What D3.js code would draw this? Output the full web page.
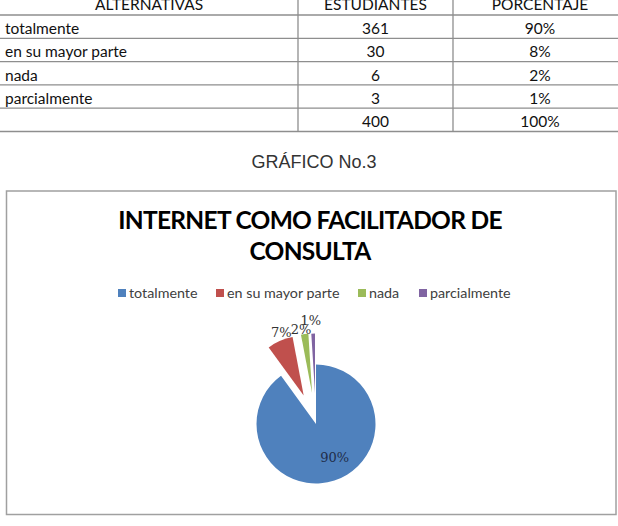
<!DOCTYPE html>
<html><head><meta charset="utf-8">
<script src="https://cdn.jsdelivr.net/npm/d3@7"></script>
<style>html,body{margin:0;padding:0;background:#fff;}svg{display:block;}</style>
</head><body>
<svg id="c" width="618" height="526"></svg>
<script>
// ---- data ----
const tableHeaders = ["ALTERNATIVAS", "ESTUDIANTES", "PORCENTAJE"];
const categories = ["totalmente", "en su mayor parte", "nada", "parcialmente"];
const students = [361, 30, 6, 3];
const percentLabels = ["90%", "8%", "2%", "1%"];
const totalStudents = 400;
const totalPercent = "100%";
const chartPercent = [90, 7, 2, 1];
const figureCaption = "GRÁFICO No.3";
const chartTitle = ["INTERNET COMO FACILITADOR  DE", "CONSULTA"];
const colors = ["#4F81BD", "#C0504D", "#9BBB59", "#8064A2"];

const svg = d3.select("#c");
const bodyFont = "Lato, 'Open Sans', sans-serif";

// ---- table ----
const colX = [0, 298, 453, 618];
const rowY = d3.range(6).map(i => 15 + i * 23.3);
const tbl = svg.append("g");
rowY.forEach(y => tbl.append("line").attr("x1", 0).attr("x2", 618).attr("y1", y).attr("y2", y)
  .attr("stroke", "#8e8e8e").attr("stroke-width", 1.3));
[colX[1], colX[2]].forEach(x => tbl.append("line").attr("x1", x).attr("x2", x).attr("y1", -2).attr("y2", rowY[5])
  .attr("stroke", "#8e8e8e").attr("stroke-width", 1.3));
const colC = [149, 375.5, 540];
tableHeaders.forEach((h, i) => tbl.append("text").attr("x", colC[i]).attr("y", 10)
  .attr("text-anchor", "middle").attr("font-family", bodyFont).attr("font-size", 15.5).attr("fill", "#111").text(h));
const rows = categories.map((c, i) => [c, students[i], percentLabels[i]]);
rows.push(["", totalStudents, totalPercent]);
rows.forEach((r, i) => {
  const yb = rowY[i] + 19;
  tbl.append("text").attr("x", 5).attr("y", yb).attr("font-family", bodyFont).attr("font-size", 15.5).attr("fill", "#111").text(r[0]);
  tbl.append("text").attr("x", colC[1]).attr("y", yb).attr("text-anchor", "middle").attr("font-family", bodyFont).attr("font-size", 15.5).attr("fill", "#111").text(r[1]);
  tbl.append("text").attr("x", colC[2]).attr("y", yb).attr("text-anchor", "middle").attr("font-family", bodyFont).attr("font-size", 15.5).attr("fill", "#111").text(r[2]);
});

// ---- caption ----
svg.append("text").attr("x", 314).attr("y", 168).attr("text-anchor", "middle")
  .attr("font-family", "'Liberation Sans', Arial, sans-serif").attr("font-size", 18).attr("fill", "#333").text(figureCaption);

// ---- chart box ----
svg.append("rect").attr("x", 6.5).attr("y", 191).attr("width", 609.5).attr("height", 323.5)
  .attr("fill", "#fff").attr("stroke", "#a0a0a0").attr("stroke-width", 1.5);

chartTitle.forEach((t, i) => svg.append("text").attr("x", 310).attr("y", 228.5 + i * 31.5)
  .attr("text-anchor", "middle").attr("font-family", bodyFont).attr("font-weight", 700)
  .attr("font-size", 24.5).attr("fill", "#000").attr("letter-spacing", -0.7).text(t));

// ---- legend ----
const legendX = [118, 216, 358, 419];
const lg = svg.append("g");
categories.forEach((c, i) => {
  lg.append("rect").attr("x", legendX[i]).attr("y", 289).attr("width", 8).attr("height", 8).attr("fill", colors[i]);
  lg.append("text").attr("x", legendX[i] + 11).attr("y", 297.5).attr("font-family", bodyFont)
    .attr("font-size", 14.3).attr("fill", "#404040").text(c);
});

// ---- pie ----
const cx = 316, cy = 424, R = 59.5;
const pie = d3.pie().sort(null).value(d => d)(chartPercent);
const arc = d3.arc().innerRadius(0).outerRadius(R);
const explode = [0, 31, 31, 31];
const pg = svg.append("g").attr("transform", `translate(${cx},${cy})`);
pie.forEach((p, i) => {
  const mid = (p.startAngle + p.endAngle) / 2;
  const dx = Math.sin(mid) * explode[i], dy = -Math.cos(mid) * explode[i];
  pg.append("path").attr("d", arc(p)).attr("fill", colors[i])
    .attr("transform", `translate(${dx},${dy})`);
});
// labels
const labelR = [0, 100, 96, 104];
const labelShiftX = [0, 5, -3, -2];
const labelText = chartPercent.map(v => v + "%");
pie.forEach((p, i) => {
  const mid = (p.startAngle + p.endAngle) / 2;
  let x, y;
  if (i === 0) {
    x = Math.sin(mid - 0.2) * 38; y = -Math.cos(mid - 0.2) * 38;
  } else {
    x = Math.sin(mid) * labelR[i] + labelShiftX[i]; y = -Math.cos(mid) * labelR[i];
  }
  pg.append("text").attr("x", x).attr("y", y + 5).attr("text-anchor", "middle")
    .attr("font-family", "'DejaVu Serif', serif").attr("font-size", 13)
    .attr("fill", i === 0 ? "#1f2d4a" : "#333").text(labelText[i]);
});
</script>
</body></html>
